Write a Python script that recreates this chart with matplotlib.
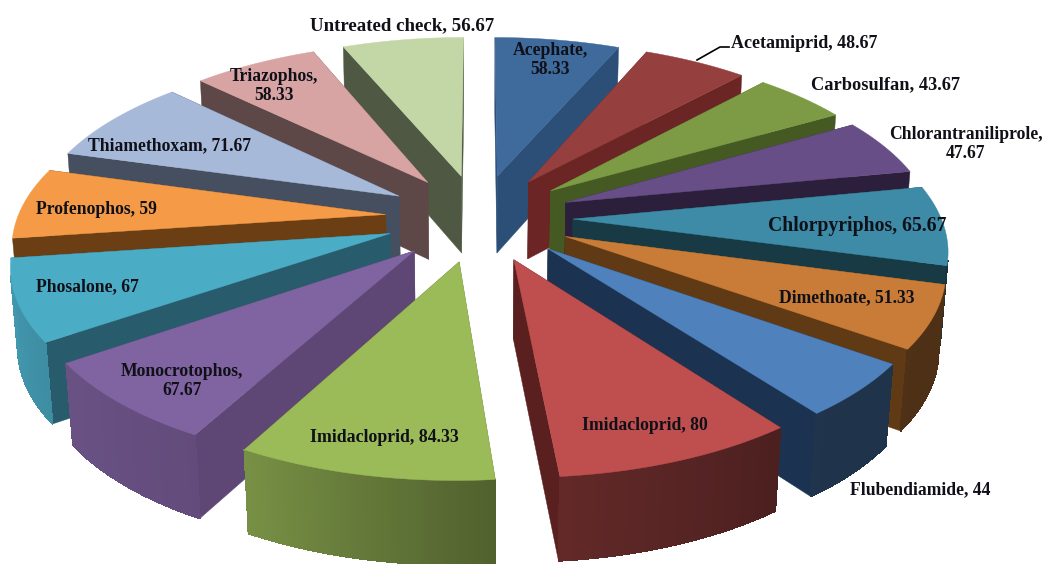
import numpy as np
import matplotlib
matplotlib.use("Agg")
import matplotlib.pyplot as plt
from matplotlib.colors import to_rgb

# =======================
# DATA
# =======================
names = ["Acephate", "Acetamiprid", "Carbosulfan", "Chlorantraniliprole",
         "Chlorpyriphos", "Dimethoate", "Flubendiamide", "Imidacloprid",
         "Imidacloprid", "Monocrotophos", "Phosalone", "Profenophos",
         "Thiamethoxam", "Triazophos", "Untreated check"]
values = [58.33, 48.67, 43.67, 47.67, 65.67, 51.33, 44, 80,
          84.33, 67.67, 67, 59, 71.67, 58.33, 56.67]

# =======================
# STYLE
# =======================
top_colors = ["#3F6A9C", "#953F3F", "#7D9A45", "#674E86", "#3D8BA6",
              "#C87C38", "#4F81BD", "#BE4F4E", "#9BBB59", "#8063A1",
              "#4BACC6", "#F59B47", "#A6B9D9", "#D8A4A3", "#C3D6A6"]
cut_colors = ["#2C4F78", "#6B2525", "#455A22", "#2C1F3C", "#173A45",
              "#603A15", "#1B3350", "#5A2020", "#5E7030", "#5E4775",
              "#285C6C", "#6B3E14", "#454F60", "#5D4847", "#4F5842"]

# label centre in pixels, line break after the name for the wrapped ones
label_pos = [(550, 60), (804, 44), (886, 85), (966, 144), (857, 226),
             (847, 298), (920, 490), (645, 425), (384, 437), (182, 381),
             (87, 287), (96, 210), (169, 146), (274, 86), (402, 26)]
label_size = [12.7, 13, 13.2, 12.7, 14.2, 12.7, 12.7, 12.7,
              12.8, 12.7, 12.7, 12.7, 12.7, 12.7, 13.6]
wrapped = {0, 3, 9, 13}

# projection settings, fitted to the picture
cx, cy = 479, 217.5
A, B = 368, 171
k = 0.15
H = 78
explode = 0.255


def project(x, y, z=0.0):
    s = 1 / (1 + k * y + 0.015 * z)
    sz = 1 / (1 + 0.1 * y)
    return cx + A * x * s, cy - B * y * s + H * z * sz


def wall_shade(deg):
    return np.interp(deg, [100, 143, 175, 208, 235, 262],
                     [0.38, 0.40, 0.52, 0.77, 0.82, 0.90])


def signed_area(px, py):
    return 0.5 * np.sum(px * np.roll(py, -1) - np.roll(px, -1) * py)


fig = plt.figure(figsize=(10.42, 5.64), dpi=100)
ax = fig.add_axes([0, 0, 1, 1])
ax.set_xlim(0, 1042)
ax.set_ylim(564, 0)
ax.axis("off")

unit = 360 / sum(values)
edges = np.concatenate([[0], np.cumsum(values)]) * unit
mids = (edges[:-1] + edges[1:]) / 2
order = list(np.argsort(-np.cos(np.radians(mids))))

for i in order:
    base_z = 3 * order.index(i)
    t = np.radians(np.linspace(edges[i], edges[i + 1], 60))
    ox = explode * np.sin(np.radians(mids[i]))
    oy = explode * np.cos(np.radians(mids[i]))
    xs = ox + np.sin(t)
    ys = oy + np.cos(t)
    top = to_rgb(top_colors[i])
    cut = cut_colors[i]

    # the two cut faces, the one turned away gets covered by the rest of the slice
    for ex, ey in [(xs[0], ys[0]), (xs[-1], ys[-1])]:
        a = project(ox, oy)
        b = project(ex, ey)
        c = project(ex, ey, 1)
        d = project(ox, oy, 1)
        ax.fill([a[0], b[0], c[0], d[0]], [a[1], b[1], c[1], d[1]],
                color=cut, lw=0.3, zorder=1 + base_z)

    # outer wall, strip by strip for the shading
    for j in range(len(t) - 1):
        a = project(xs[j], ys[j])
        b = project(xs[j + 1], ys[j + 1])
        c = project(xs[j + 1], ys[j + 1], 1)
        d = project(xs[j], ys[j], 1)
        px = np.array([a[0], b[0], c[0], d[0]])
        py = np.array([a[1], b[1], c[1], d[1]])
        if signed_area(px, py) >= 0:
            continue
        f = wall_shade(np.degrees(t[j]))
        ax.fill(px, py, color=tuple(f * v for v in top), lw=0.6,
                antialiased=False, zorder=2 + base_z)

    px, py = project(np.r_[ox, xs], np.r_[oy, ys])
    ax.fill(px, py, color=top, lw=0.3, zorder=3 + base_z)

for i, (name, val) in enumerate(zip(names, values)):
    sep = ",\n" if i in wrapped else ", "
    ax.text(label_pos[i][0], label_pos[i][1], f"{name}{sep}{val}", ha="center", va="center",
            family="Liberation Serif", weight="bold", fontsize=label_size[i], color="#101018",
            linespacing=1.15, zorder=200)

# leader for Acetamiprid
ax.plot([697, 720, 729], [60, 47, 47], color="black", lw=1.2, zorder=200)

fig.savefig("out.png", dpi=100)
